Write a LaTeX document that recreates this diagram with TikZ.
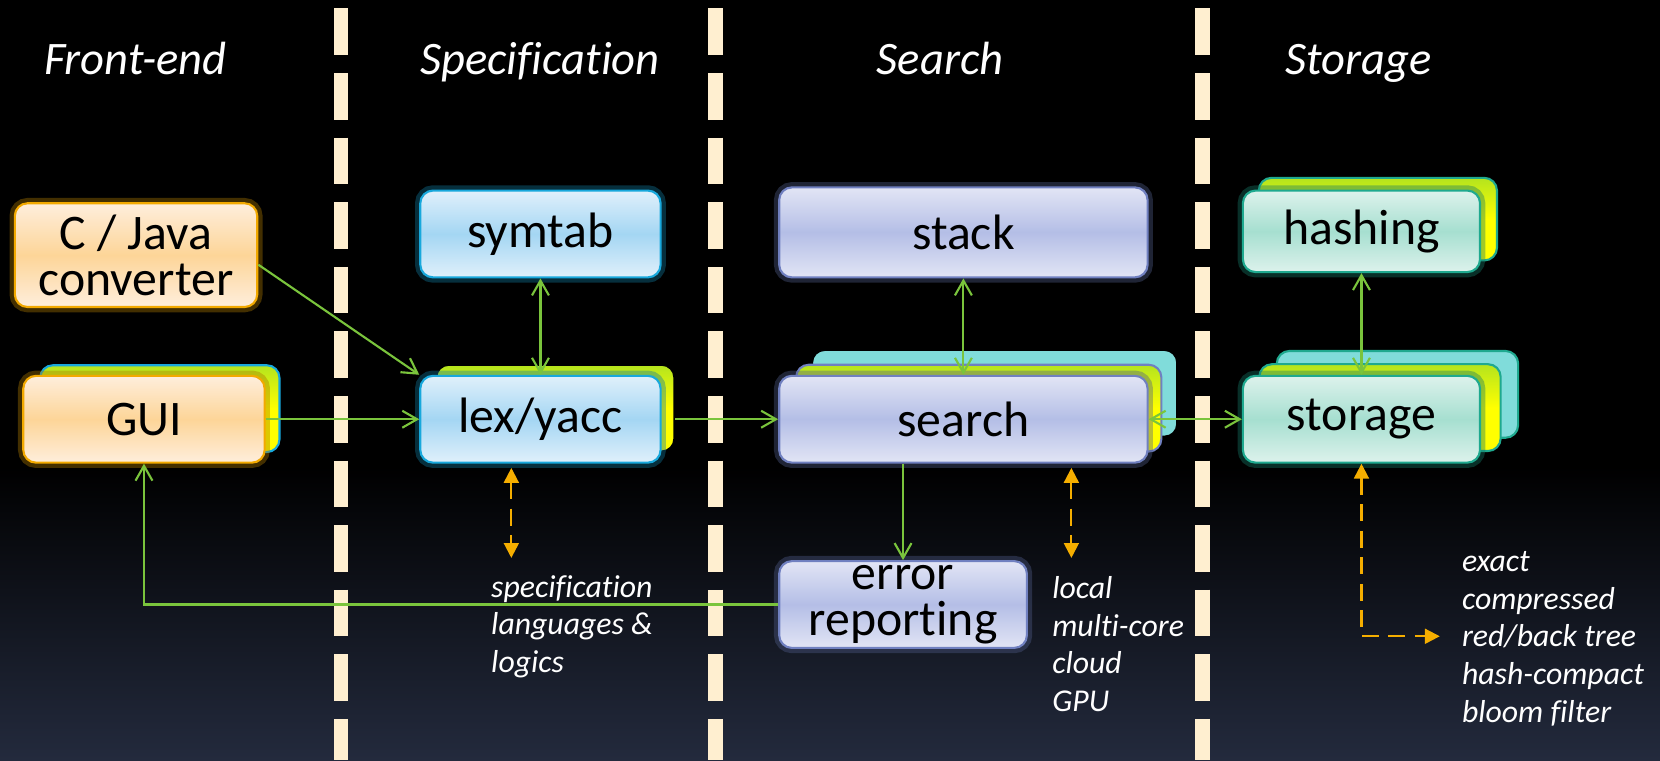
\documentclass[tikz,border=0pt]{standalone}
\usepackage{fontspec}
\setmainfont{Carlito}[Ligatures=CommonOff]
\usetikzlibrary{arrows.meta,positioning,shapes}

\definecolor{bgnavy}{HTML}{232A3D}
\definecolor{sepcream}{HTML}{FFEFD0}
\definecolor{arrgreen}{HTML}{7AC43C}
\definecolor{arrorange}{HTML}{F5AE00}
\definecolor{orline}{HTML}{F2A900}
\definecolor{ortop}{HTML}{FEEEDC}
\definecolor{ormid}{HTML}{FDD598}
\definecolor{blline}{HTML}{18A8DC}
\definecolor{bltop}{HTML}{E0F0FB}
\definecolor{blmid}{HTML}{A4D6F3}
\definecolor{lvline}{HTML}{7080C0}
\definecolor{lvtop}{HTML}{E2E5F5}
\definecolor{lvmid}{HTML}{B4BEE6}
\definecolor{tlline}{HTML}{1FA98F}
\definecolor{tltop}{HTML}{DDF2EC}
\definecolor{tlmid}{HTML}{A6DFD0}
\definecolor{tlback}{HTML}{80DCDA}
\definecolor{ylgreen}{HTML}{B4E41E}

\begin{document}
\begin{tikzpicture}[x=0.5pt,y=-0.5pt,line width=1pt,
  >={Straight Barb[length=7pt,width=8pt]},
  otip/.tip={Triangle[length=7pt,width=7pt]},
  box/.style={rounded corners=6pt,inner sep=0pt,minimum height=41pt,
    align=center,font=\fontsize{23.5}{21.5}\selectfont},
  frontbox/.style={box,draw=orline,top color=ortop,bottom color=ortop,middle color=ormid,
    preaction={draw=orline!70!black,line width=5pt,draw opacity=0.4}},
  specbox/.style={box,draw=blline,top color=bltop,bottom color=bltop,middle color=blmid,
    preaction={draw=blline!70!black,line width=5pt,draw opacity=0.4}},
  searchbox/.style={box,draw=lvline,top color=lvtop,bottom color=lvtop,middle color=lvmid,
    preaction={draw=lvline!70!black,line width=5pt,draw opacity=0.4}},
  storebox/.style={box,draw=tlline,top color=tltop,bottom color=tltop,middle color=tlmid,
    preaction={draw=tlline!70!black,line width=5pt,draw opacity=0.4}},
  yellowcard/.style={rounded corners=6pt,inner sep=0pt,minimum height=41pt,
    top color=ylgreen,bottom color=yellow,middle color=yellow},
  tealcard/.style={rounded corners=6pt,inner sep=0pt,minimum height=41pt,
    fill=tlback,draw=tlline},
  flow/.style={draw=arrgreen},
  hint/.style={draw=arrorange,dash pattern=on 8pt off 4.5pt,otip-otip},
  title/.style={anchor=base,text=white,font=\itshape\fontsize{22}{26}\selectfont},
  note/.style={anchor=base west,align=left,inner sep=0pt,text=white,
    font=\itshape\fontsize{15}{17.75}\selectfont},
  sepline/.style={draw=sepcream,line width=6.8pt,dash pattern=on 22pt off 8.5pt}]

  % background
  \path[use as bounding box,fill=black] (0,0) rectangle (1568,718);
  \fill[top color=black,bottom color=bgnavy] (0,440) rectangle (1568,718);
  \foreach \x in {322,676,1136}
    \draw[sepline] (\x,8) -- (\x,718);

  \node[title] (tfront) at (128,70) {Front-end};
  \node[title] (tspec) at (510,70) {Specification};
  \node[title] (tsearch) at (888,70) {Search};
  \node[title] (tstore) at (1283,70) {Storage};

  % front-end
  \node[frontbox,minimum width=114.5pt,minimum height=49pt] (conv) at (128.5,241) {C / Java\\converter};
  \node[yellowcard,draw=blline,minimum width=113pt] (guiback) at (151,386) {};
  \node[frontbox,minimum width=114pt] (gui) at (136,396) {GUI};

  % specification
  \node[specbox,minimum width=113.5pt] (symtab) at (510.5,221) {symtab};
  \node[yellowcard,draw=black,minimum width=112.5pt] (lexback) at (524.5,385.5) {};
  \node[specbox,minimum width=113.5pt] (lex) at (510.5,396) {lex/yacc};

  % search
  \node[searchbox,minimum width=174pt,minimum height=42.5pt] (stack) at (910,219.5) {stack};
  \node[tealcard,draw=black,minimum width=172.5pt] (searchback2) at (939.5,371.5) {};
  \node[yellowcard,draw=lvline,minimum width=172.5pt] (searchback) at (924.5,385.5) {};
  \node[searchbox,minimum width=174pt] (search) at (910,396) {search};
  \node[searchbox,minimum width=117pt] (err) at (853,571) {error\\reporting};

  % storage
  \node[yellowcard,draw=tlline,minimum width=112.5pt,minimum height=39pt] (hashback) at (1301.5,207) {};
  \node[storebox,minimum width=112pt,minimum height=38.5pt] (hash) at (1286,218.5) {hashing};
  \node[tealcard,minimum width=114pt] (storeback2) at (1320,372.5) {};
  \node[yellowcard,draw=tlline,minimum width=114pt] (storeback) at (1303.5,385) {};
  \node[storebox,minimum width=112pt] (store) at (1286,396) {storage};

  \draw[flow,->] ([yshift=-4.5pt]conv.east) -- (lex.north west);
  \draw[flow,->] (gui) -- (lex);
  \draw[flow,<->] (symtab) -- (lex);
  \draw[flow,->] (lexback.east |- lex.east) -- (search.west);
  \draw[flow,<->] (stack) -- (search);
  \draw[flow,<->] (search) -- (store);
  \draw[flow,<->] (hash) -- (store);
  \draw[flow,->] (search.south -| err.north) -- (err.north);
  \draw[flow,->] (err) -| (gui);

  \coordinate (specup) at (483,442);
  \coordinate (specdn) at (483,527);
  \coordinate (localup) at (1012,442);
  \coordinate (localdn) at (1012,527);
  \coordinate (storehint) at (1360,601);
  \draw[hint] (specup) -- (specdn);
  \draw[hint] (localup) -- (localdn);
  \draw[hint] (store) |- (storehint);

  \node[note] (spectext) at (463,635) {specification\\languages \&\\logics};
  \node[note] (searchtext) at (993,672) {local\\multi-core\\cloud\\GPU};
  \node[note] (storetext) at (1380,682) {exact\\compressed\\red/back tree\\hash-compact\\bloom filter};

\end{tikzpicture}
\end{document}
